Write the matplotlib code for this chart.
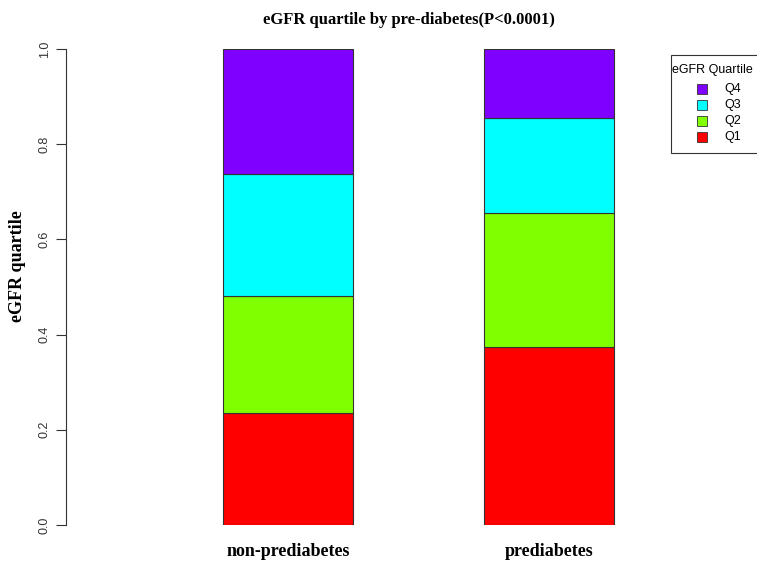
import numpy as np
import matplotlib.pyplot as plt
from matplotlib.patches import Rectangle

groups = ["non-prediabetes", "prediabetes"]
quartiles = ["Q1", "Q2", "Q3", "Q4"]
q1 = [0.235, 0.374]
q2 = [0.246, 0.281]
q3 = [0.256, 0.200]
q4 = [0.263, 0.145]
colors = ["#FF0000", "#80FF00", "#00FFFF", "#8000FF"]

W, H = 757, 563
fig = plt.figure(figsize=(W / 100, H / 100), dpi=100)
ax = fig.add_axes([66 / W, 1 - 525 / H, 594 / W, 476 / H])

x = np.array([0, 2])
bottom = np.zeros(2)
for vals, c in zip([q1, q2, q3, q4], colors):
    ax.bar(x, vals, width=1, bottom=bottom, color=c, edgecolor="#333333", linewidth=0.8)
    bottom += np.array(vals)

ax.set_xlim(-1.70, 2.85)
ax.set_ylim(0, 1)
for s in ["top", "right", "bottom"]:
    ax.spines[s].set_visible(False)
ax.spines["left"].set_linewidth(0.8)
ax.spines["left"].set_color("#333333")
ax.set_yticks([0, 0.2, 0.4, 0.6, 0.8, 1.0])
ax.set_yticklabels(["0.0", "0.2", "0.4", "0.6", "0.8", "1.0"], rotation=90, va="center",
                   fontsize=9, family="Liberation Sans", color="#333333")
ax.tick_params(axis="y", length=7, width=0.8, color="#333333", pad=4)
ax.set_xticks([])
for xi, g in zip(x, groups):
    ax.text(xi, -0.055, g, ha="center", va="center", fontsize=13, fontweight="bold",
            family="Liberation Serif", clip_on=False)

fig.text(18 / W, 1 - 266 / H, "eGFR quartile", rotation=90, ha="center", va="center",
         fontsize=13, fontweight="bold", family="Liberation Serif")
fig.text(409 / W, 1 - 20 / H, "eGFR quartile by pre-diabetes(P<0.0001)", ha="center", va="center",
         fontsize=12, fontweight="bold", family="Liberation Serif")

# legend box (runs off the right edge like the original)
fig.add_artist(Rectangle((671 / W, 1 - 153 / H), 100 / W, 98 / H, transform=fig.transFigure,
                         facecolor="white", edgecolor="#333333", linewidth=0.8, clip_on=False))
fig.text(672 / W, 1 - 70 / H, "eGFR Quartile", ha="left", va="center",
         fontsize=9, family="Liberation Sans")
for i, (q, c) in enumerate(zip(quartiles[::-1], colors[::-1])):
    py = 89 + 16 * i
    fig.add_artist(Rectangle((697 / W, 1 - (py + 5) / H), 10 / W, 10 / H, transform=fig.transFigure,
                             facecolor=c, edgecolor="#333333", linewidth=0.6))
    fig.text(724 / W, 1 - py / H, q, ha="left", va="center", fontsize=9, family="Liberation Sans")

fig.savefig("out.png", dpi=100)
